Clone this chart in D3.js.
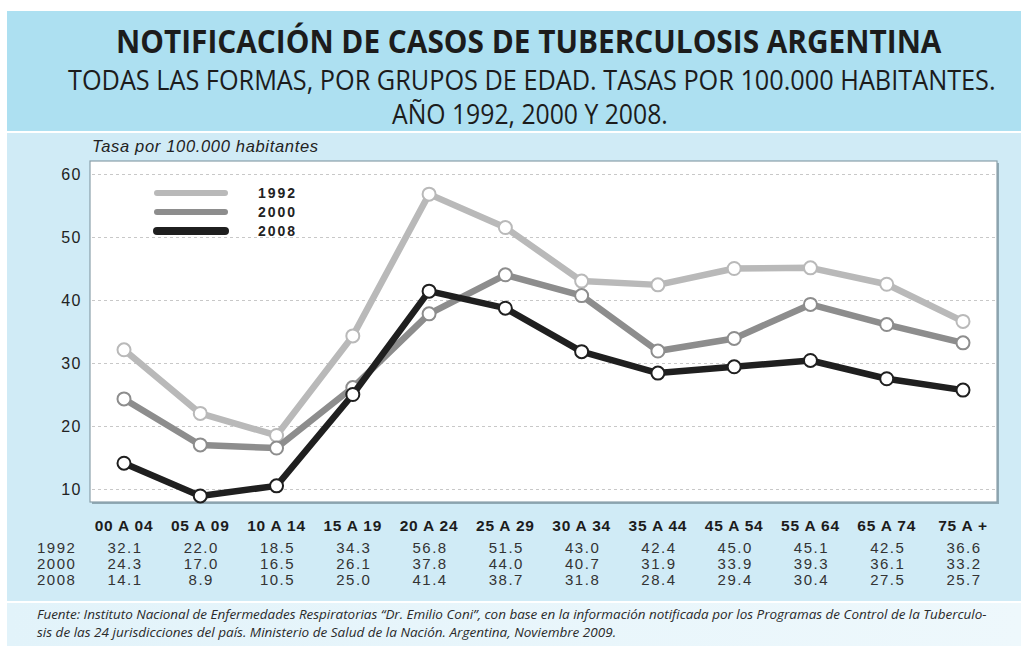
<!DOCTYPE html>
<html>
<head>
<meta charset="utf-8">
<script src="https://cdnjs.cloudflare.com/ajax/libs/d3/7.8.5/d3.min.js"></script>
<style>
  body { margin: 0; background: #fff; }
  svg { display: block; }
</style>
</head>
<body>
<div id="viz"></div>
<script>
//------- Data -----------
var groups = ["00 A 04", "05 A 09", "10 A 14", "15 A 19", "20 A 24", "25 A 29",
              "30 A 34", "35 A 44", "45 A 54", "55 A 64", "65 A 74", "75 A +"];
var years = ["1992", "2000", "2008"];
var rates1992 = [32.1, 22.0, 18.5, 34.3, 56.8, 51.5, 43.0, 42.4, 45.0, 45.1, 42.5, 36.6];
var rates2000 = [24.3, 17.0, 16.5, 26.1, 37.8, 44.0, 40.7, 31.9, 33.9, 39.3, 36.1, 33.2];
var rates2008 = [14.1, 8.9, 10.5, 25.0, 41.4, 38.7, 31.8, 28.4, 29.4, 30.4, 27.5, 25.7];
var yTicks = [10, 20, 30, 40, 50, 60];

var series = [
  {year: years[0], values: rates1992, color: "#b9b9b9"},
  {year: years[1], values: rates2000, color: "#8d8d8d"},
  {year: years[2], values: rates2008, color: "#1f1f1f"}
];

//---------------------------------
var width = 1021, height = 648;
var plot = {left: 90, top: 161, right: 997, bottom: 502};

var svg = d3.select("#viz").append("svg")
    .attr("width", width)
    .attr("height", height);

// squeeze a text horizontally so it spans `w` pixels, keeping its height
function fitText(t, x, y, w) {
  var natural = t.node().getComputedTextLength();
  var k = w / natural;
  t.attr("x", 0).attr("y", 0)
   .attr("text-anchor", "start")
   .attr("transform", "translate(" + x + "," + y + ") scale(" + k + ",1)");
}

// background bands
svg.append("rect").attr("x", 7).attr("y", 11).attr("width", width - 7).attr("height", 120)
    .style("fill", "#ade0f1");
svg.append("rect").attr("x", 7).attr("y", 133).attr("width", width - 7).attr("height", 468)
    .style("fill", "#d0ebf6");
var grad = svg.append("defs").append("linearGradient").attr("id", "foot")
    .attr("x1", 0).attr("x2", 1).attr("y1", 0).attr("y2", 0);
grad.append("stop").attr("offset", "0%").attr("stop-color", "#e2f3fa");
grad.append("stop").attr("offset", "100%").attr("stop-color", "#eef8fc");
svg.append("rect").attr("x", 7).attr("y", 603).attr("width", width - 7).attr("height", 43)
    .style("fill", "url(#foot)");

// titles
var t1 = svg.append("text")
    .style("font-family", "'Open Sans', sans-serif")
    .style("font-weight", "bold").style("font-size", "32px").style("fill", "#1c1c1c")
    .text("NOTIFICACIÓN DE CASOS DE TUBERCULOSIS ARGENTINA");
fitText(t1, 116, 53, 826);
var t2 = svg.append("text")
    .style("font-family", "'Open Sans', sans-serif")
    .style("font-size", "27px").style("fill", "#1c1c1c")
    .text("TODAS LAS FORMAS, POR GRUPOS DE EDAD. TASAS POR 100.000 HABITANTES.");
fitText(t2, 68, 90, 928);
var t3 = svg.append("text")
    .style("font-family", "'Open Sans', sans-serif")
    .style("font-size", "27px").style("fill", "#1c1c1c")
    .text("AÑO 1992, 2000 Y 2008.");
fitText(t3, 392, 124, 276);

//------ Scales & axes -----------
var xScale = d3.scalePoint()
    .domain(groups)
    .range([124, 963]);

var yScale = d3.scaleLinear()
    .domain([7.94, 62.06])
    .range([plot.bottom, plot.top]);

// plot box with small shadow
svg.append("rect")
    .attr("x", plot.left + 2).attr("y", plot.top + 2)
    .attr("width", plot.right - plot.left).attr("height", plot.bottom - plot.top)
    .style("fill", "#8fa9b4");
svg.append("rect")
    .attr("x", plot.left).attr("y", plot.top)
    .attr("width", plot.right - plot.left).attr("height", plot.bottom - plot.top)
    .style("fill", "#fff").style("stroke", "#8aa0aa").style("stroke-width", "1.2px");

var yAxis = d3.axisLeft(yScale)
    .tickValues(yTicks)
    .tickSize(-(plot.right - plot.left - 4))
    .tickPadding(10)
    .tickFormat(d3.format("d"));

var gYAxis = svg.append("g")
    .attr("id", "y-axis")
    .attr("transform", "translate(" + (plot.left + 2) + ",0)")
    .call(yAxis);
gYAxis.select(".domain").remove();
gYAxis.selectAll(".tick line")
    .style("stroke", "#c8c8c8").style("stroke-width", "1.2px").style("stroke-dasharray", "3,3");
gYAxis.selectAll(".tick text")
    .attr("x", -10)
    .style("font-family", "'Liberation Sans', Arial, sans-serif")
    .style("font-size", "16px").style("fill", "#222")
    .style("letter-spacing", "1.5px");

svg.append("text").attr("x", 92).attr("y", 152)
    .attr("textLength", 226).attr("lengthAdjust", "spacing")
    .style("font-family", "'Liberation Sans', Arial, sans-serif")
    .style("font-style", "italic").style("font-size", "16.5px").style("fill", "#222")
    .text("Tasa por 100.000 habitantes");

//------ Lines -----------
var line = d3.line()
    .x(function(d, i) { return xScale(groups[i]); })
    .y(function(d) { return yScale(d); });

var gLines = svg.append("g").attr("id", "lines");
series.forEach(function(s) {
  var g = gLines.append("g");
  g.append("path")
      .datum(s.values)
      .attr("d", line)
      .style("fill", "none")
      .style("stroke", s.color)
      .style("stroke-width", "6.5px")
      .style("stroke-linejoin", "round");
  g.selectAll("circle")
      .data(s.values)
      .enter()
      .append("circle")
      .attr("cx", function(d, i) { return xScale(groups[i]); })
      .attr("cy", function(d) { return yScale(d); })
      .attr("r", 6.5)
      .style("fill", "#fff")
      .style("stroke", s.color)
      .style("stroke-width", "2px");
});

//------ Legend -----------
var legend = svg.append("g").attr("id", "legend");
series.forEach(function(s, i) {
  var y = 193 + i * 19;
  legend.append("line")
      .attr("x1", 157).attr("x2", 225).attr("y1", y).attr("y2", y)
      .style("stroke", s.color)
      .style("stroke-width", i == 2 ? "8px" : "6px")
      .style("stroke-linecap", "round");
  legend.append("text")
      .attr("x", 258).attr("y", y + 5)
      .style("font-family", "'Liberation Sans', Arial, sans-serif")
      .style("font-weight", "bold").style("font-size", "14px").style("fill", "#222")
      .style("letter-spacing", "2px")
      .text(s.year);
});

//------ Category labels & table -----------
svg.append("g").selectAll("text")
    .data(groups)
    .enter()
    .append("text")
    .attr("x", function(d) { return xScale(d); })
    .attr("y", 531)
    .attr("text-anchor", "middle")
    .style("font-family", "'Liberation Sans', Arial, sans-serif")
    .style("font-weight", "bold").style("font-size", "15.5px").style("fill", "#1c1c1c")
    .style("letter-spacing", "0.8px")
    .text(function(d) { return d; });

var table = svg.append("g").attr("id", "table");
series.forEach(function(s, r) {
  var y = 553 + r * 16;
  table.append("text")
      .attr("x", 37).attr("y", y)
      .style("font-family", "'Liberation Sans', Arial, sans-serif")
      .style("font-size", "15px").style("fill", "#333")
      .style("letter-spacing", "1.5px")
      .text(s.year);
  table.selectAll("text.v" + r)
      .data(s.values)
      .enter()
      .append("text")
      .attr("class", "v" + r)
      .attr("x", function(d, i) { return xScale(groups[i]) + 1; })
      .attr("y", y)
      .attr("text-anchor", "middle")
      .style("font-family", "'Liberation Sans', Arial, sans-serif")
      .style("font-size", "15px").style("fill", "#333")
      .style("letter-spacing", "1.5px")
      .text(function(d) { return d.toFixed(1); });
});

//------ Footer -----------
var foot = svg.append("g")
    .style("font-family", "'Open Sans', sans-serif")
    .style("font-style", "italic").style("font-size", "12.5px").style("fill", "#2a2a2a");
var f1 = foot.append("text")
    .text("Fuente: Instituto Nacional de Enfermedades Respiratorias \u201cDr. Emilio Coni\u201d, con base en la información notificada por los Programas de Control de la Tuberculo-");
fitText(f1, 37, 619, 951);
var f2 = foot.append("text")
    .text("sis de las 24 jurisdicciones del país. Ministerio de Salud de la Nación. Argentina, Noviembre 2009.");
fitText(f2, 37, 637, 580);
</script>
</body>
</html>
